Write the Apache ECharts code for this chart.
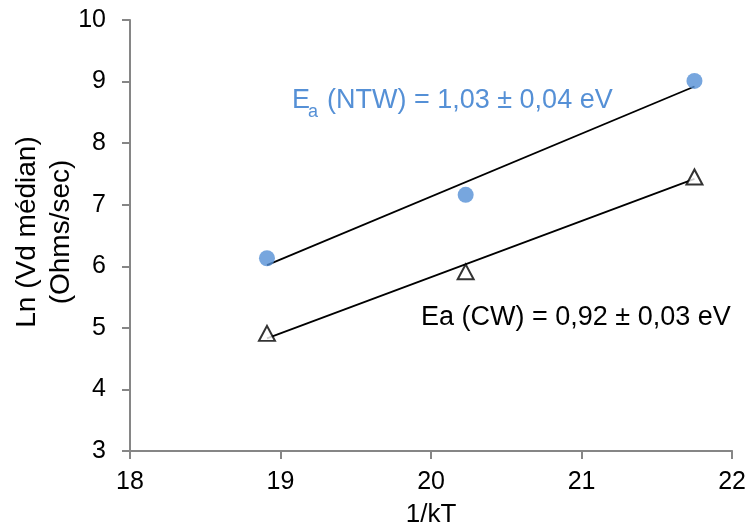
<!DOCTYPE html>
<html>
<head>
<meta charset="utf-8">
<script src="https://cdn.jsdelivr.net/npm/echarts@6/dist/echarts.min.js"></script>
<style>
html,body{margin:0;padding:0;background:#fff;}
#chart{width:749px;height:526px;}
</style>
</head>
<body>
<div id="chart"></div>
<script>
// Data
const xValues = [18.91, 20.23, 21.75];
const ntwValues = [6.13, 7.16, 9.01];
const cwValues = [4.91, 5.91, 7.45];
const trendX = [18.91, 21.75];
const ntwTrend = [6.02, 8.92];
const cwTrend = [4.83, 7.42];
const xTicks = [18, 19, 20, 21, 22];
const yTicks = [3, 4, 5, 6, 7, 8, 9, 10];
const xTitle = '1/kT';
const yTitleLines = ['Ln (Vd médian)', '(Ohms/sec)'];

const FONT = '"Liberation Sans", Arial, sans-serif';
const BLUE = '#5590d6';
const pairs = (xs, ys) => xs.map((x, i) => [x, ys[i]]);

const chart = echarts.init(document.getElementById('chart'));
chart.setOption({
  animation: false,
  backgroundColor: '#fff',
  grid: {left: 130, right: 16, top: 20, bottom: 75},
  xAxis: {
    type: 'value', min: xTicks[0], max: xTicks[xTicks.length - 1], interval: 1,
    axisLine: {lineStyle: {color: '#868686', width: 2}},
    axisTick: {show: true, length: 8, lineStyle: {color: '#868686', width: 2}},
    axisLabel: {fontFamily: FONT, fontSize: 25, color: '#000', margin: 19},
    splitLine: {show: false}
  },
  yAxis: {
    type: 'value', min: yTicks[0], max: yTicks[yTicks.length - 1], interval: 1,
    axisLine: {show: true, lineStyle: {color: '#868686', width: 2}},
    axisTick: {show: true, length: 8, lineStyle: {color: '#868686', width: 2}},
    axisLabel: {fontFamily: FONT, fontSize: 25, color: '#000', margin: 24},
    splitLine: {show: false}
  },
  series: [
    {type: 'line', data: pairs(trendX, ntwTrend), symbol: 'none',
     lineStyle: {color: '#000', width: 1.8}, z: 2},
    {type: 'line', data: pairs(trendX, cwTrend), symbol: 'none',
     lineStyle: {color: '#000', width: 1.8}, z: 2},
    {type: 'scatter', data: pairs(xValues, ntwValues), symbol: 'circle', symbolSize: 16,
     itemStyle: {color: BLUE}, z: 3},
    {type: 'scatter', data: pairs(xValues, cwValues), symbol: 'triangle', symbolSize: [16, 15],
     itemStyle: {color: '#fff', borderColor: '#000', borderWidth: 2}, z: 3}
  ],
  graphic: [
    {type: 'text', x: 27.5, y: 232, rotation: Math.PI / 2,
     style: {text: yTitleLines[0], font: '28px ' + FONT, fill: '#000', align: 'center', verticalAlign: 'middle'}},
    {type: 'text', x: 61.5, y: 232, rotation: Math.PI / 2,
     style: {text: yTitleLines[1], font: '28px ' + FONT, fill: '#000', align: 'center', verticalAlign: 'middle'}},
    {type: 'text', x: 431, y: 515,
     style: {text: xTitle, font: '26px ' + FONT, fill: '#000', align: 'center', verticalAlign: 'middle'}},
    {type: 'text', x: 292, y: 101, style: {text: 'E', font: '27px ' + FONT, fill: BLUE, align: 'left', verticalAlign: 'middle'}},
    {type: 'text', x: 308, y: 112, style: {text: 'a', font: '18px ' + FONT, fill: BLUE, align: 'left', verticalAlign: 'middle'}},
    {type: 'text', x: 327, y: 101, style: {text: '(NTW) = 1,03 ± 0,04 eV', font: '27px ' + FONT, fill: BLUE, align: 'left', verticalAlign: 'middle'}},
    {type: 'text', x: 421, y: 318, style: {text: 'Ea (CW) = 0,92 ± 0,03 eV', font: '27px ' + FONT, fill: '#000', align: 'left', verticalAlign: 'middle'}}
  ]
});
</script>
</body>
</html>
